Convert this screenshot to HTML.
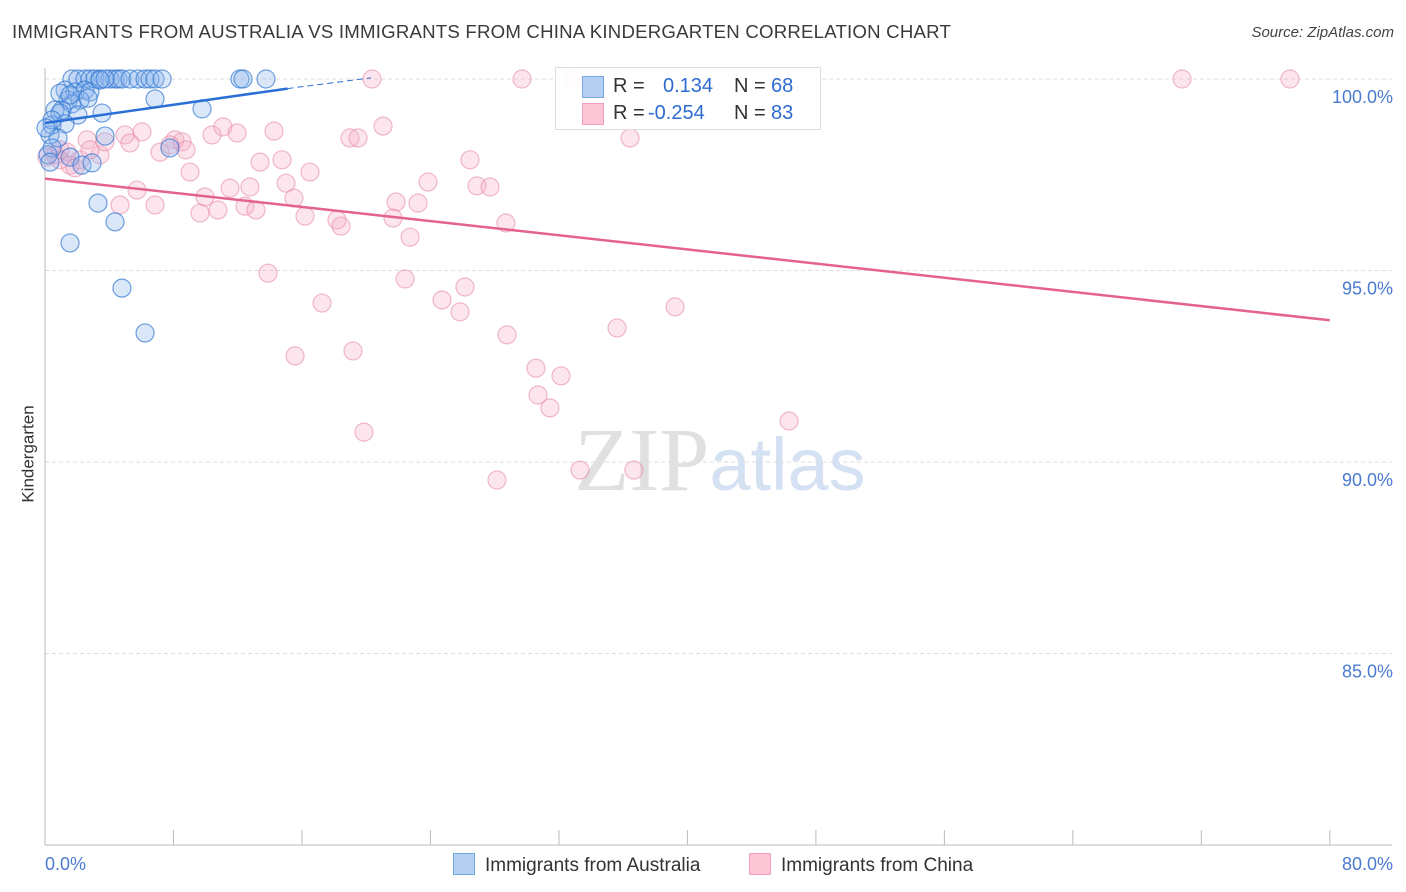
<!DOCTYPE html>
<html><head><meta charset="utf-8"><style>
body{margin:0;background:#fff;font-family:"Liberation Sans",sans-serif;}
#wrap{position:relative;width:1406px;height:892px;overflow:hidden;}
.t{position:absolute;white-space:nowrap;}
</style></head><body><div id="wrap">
<div class="t" style="left:12px;top:22px;font-size:18px;color:#3a3a3a;letter-spacing:0.2px;transform:scaleX(1.035);transform-origin:left;">IMMIGRANTS FROM AUSTRALIA VS IMMIGRANTS FROM CHINA KINDERGARTEN CORRELATION CHART</div>
<div class="t" style="right:12px;top:24px;font-size:15px;color:#444;font-style:italic;">Source: ZipAtlas.com</div>
<div class="t" style="left:-20px;top:444px;font-size:17px;color:#333;transform:rotate(-90deg);">Kindergarten</div>
<svg id="svg" width="1406" height="892" style="position:absolute;left:0;top:0"></svg>
</div>
<script>
const xTicks=[0,8,16,24,32,40,48,56,64,72,80];
const yTicks=[100,95,90,85];
const yTickLabels=["100.0%","95.0%","90.0%","85.0%"];
const ausPx=[[72,79],[78,79],[85,79],[90,79],[95,79],[100,79],[110,79],[115,79],[118,79],[122,79],[130,79],[138,79],[145,79],[150,79],[155,79],[162,79],[240,79],[243,79],[266,79],[65,90],[75,92],[85,90],[90,92],[68,100],[80,100],[72,104],[62,110],[55,110],[60,113],[78,115],[102,113],[155,99],[202,109],[52,125],[65,124],[50,135],[58,138],[105,136],[170,148],[52,148],[48,155],[70,157],[82,165],[92,163],[50,162],[98,203],[115,222],[70,243],[122,288],[145,333],[60,93],[70,95],[88,98],[100,80],[105,79],[52,120],[46,128]];
const chnPx=[[67,152],[55,155],[60,160],[70,165],[80,160],[100,155],[87,140],[105,142],[125,135],[142,132],[130,143],[160,152],[175,140],[182,142],[186,150],[170,145],[212,135],[223,127],[237,133],[274,131],[350,138],[358,138],[383,126],[372,79],[522,79],[573,79],[630,138],[1182,79],[1290,79],[137,190],[120,205],[155,205],[190,172],[200,213],[205,197],[218,210],[230,188],[245,206],[250,187],[256,210],[260,162],[282,160],[286,183],[294,198],[305,216],[310,172],[337,220],[341,226],[396,202],[393,218],[418,203],[410,237],[428,182],[470,160],[477,186],[490,187],[506,223],[268,273],[322,303],[405,279],[442,300],[460,312],[465,287],[507,335],[617,328],[675,307],[295,356],[353,351],[536,368],[561,376],[538,395],[550,408],[364,432],[789,421],[497,480],[580,470],[634,470],[60,150],[75,168],[90,150],[47,157]];
const ausX=ausPx.map(p=>+((p[0]-45)/16.06).toFixed(2)), ausY=ausPx.map(p=>+(100-(p[1]-79)/38.3).toFixed(2));
const chnX=chnPx.map(p=>+((p[0]-45)/16.06).toFixed(2)), chnY=chnPx.map(p=>+(100-(p[1]-79)/38.3).toFixed(2));
const ausTrend=[[0,98.85],[15.1,99.75],[20.3,100.03]];
const chnTrend=[[0,97.4],[80,93.7]];
const X=v=>45+v*16.06, Y=v=>79+(100-v)*38.3;
const NS="http://www.w3.org/2000/svg", svg=document.getElementById('svg');
function mk(t,a,p){const e=document.createElementNS(NS,t);for(const k in a)e.setAttribute(k,a[k]);(p||svg).appendChild(e);return e;}
const g=mk('g',{});


yTicks.forEach((v,i)=>{
 const l=mk('line',{x1:45,x2:1392,y1:Y(v),y2:Y(v),stroke:'#ddd','stroke-dasharray':'4,3'},g);
 
 
 const t=mk('text',{x:1393,y:Y(v)+24,'text-anchor':'end','font-size':18,fill:'#4a7bd0','font-family':'Liberation Sans'});
 t.textContent=yTickLabels[i];
 
 
});
const ax=mk('line',{x1:45,x2:45,y1:68,y2:845,stroke:'#bbb'});


const bx=mk('line',{x1:45,x2:1392,y1:845,y2:845,stroke:'#bbb'});


xTicks.forEach(v=>{const l=mk('line',{x1:X(v),x2:X(v),y1:830,y2:845,stroke:'#bbb'});
 
 });
[[0,'0.0%','start',45],[80,'80.0%','end',1393]].forEach(a=>{const t=mk('text',{x:a[3],y:870,'text-anchor':a[2],'font-size':18,fill:'#4a7bd0','font-family':'Liberation Sans'});t.textContent=a[1];
 
 });
const wm=mk('text',{x:720,y:490,'text-anchor':'middle','font-size':90,'font-family':'Liberation Serif'});
wm.innerHTML='<tspan fill="#e0e0e0">ZIP</tspan><tspan fill="#d3e1f3" font-family="Liberation Sans" font-size="74">atlas</tspan>';


chnX.forEach((x,i)=>{const c=mk('circle',{cx:X(x),cy:Y(chnY[i]),r:9,fill:'rgba(246,170,195,0.3)',stroke:'rgba(232,140,170,0.6)','stroke-width':1.2});
 
 });
ausX.forEach((x,i)=>{const c=mk('circle',{cx:X(x),cy:Y(ausY[i]),r:9,fill:'rgba(140,180,235,0.32)',stroke:'rgba(50,120,210,0.7)','stroke-width':1.2});
 
 });
const t1=mk('line',{x1:X(ausTrend[0][0]),y1:Y(ausTrend[0][1]),x2:X(ausTrend[1][0]),y2:Y(ausTrend[1][1]),stroke:'#2a6fd6','stroke-width':2.5});


const t1d=mk('line',{x1:X(ausTrend[1][0]),y1:Y(ausTrend[1][1]),x2:X(ausTrend[2][0]),y2:Y(ausTrend[2][1]),stroke:'#2a6fd6','stroke-width':1,'stroke-dasharray':'6,4'});


const t2=mk('line',{x1:X(chnTrend[0][0]),y1:Y(chnTrend[0][1]),x2:X(chnTrend[1][0]),y2:Y(chnTrend[1][1]),stroke:'#e4628e','stroke-width':2.5});


</script>
<div class="t" style="left:555px;top:67px;width:264px;height:61px;border:1px solid #ddd;background:rgba(255,255,255,0.9);font-size:20px;">
 <div style="position:absolute;left:26px;top:8px;width:20px;height:20px;background:#b5cff3;border:1px solid #7aa6e6;"></div>
 <div class="t" style="left:57px;top:7px;color:#333">R =</div><div class="t" style="left:107px;top:7px;color:#2d6bd0">0.134</div>
 <div class="t" style="left:178px;top:7px;color:#333">N =</div><div class="t" style="left:215px;top:7px;color:#2d6bd0">68</div>
 <div style="position:absolute;left:26px;top:35px;width:20px;height:20px;background:#fbc6d6;border:1px solid #f1a0bb;"></div>
 <div class="t" style="left:57px;top:34px;color:#333">R =</div><div class="t" style="left:92px;top:34px;color:#2d6bd0">-0.254</div>
 <div class="t" style="left:178px;top:34px;color:#333">N =</div><div class="t" style="left:215px;top:34px;color:#2d6bd0">83</div>
</div>
<div class="t" style="left:453px;top:853px;font-size:19px;color:#333;"><span style="display:inline-block;width:20px;height:20px;background:#b5cff3;border:1px solid #7aa6e6;vertical-align:-4px;margin-right:10px"></span>Immigrants from Australia</div>
<div class="t" style="left:749px;top:853px;font-size:19px;color:#333;"><span style="display:inline-block;width:20px;height:20px;background:#fbc6d6;border:1px solid #f1a0bb;vertical-align:-4px;margin-right:10px"></span>Immigrants from China</div>
</body></html>
